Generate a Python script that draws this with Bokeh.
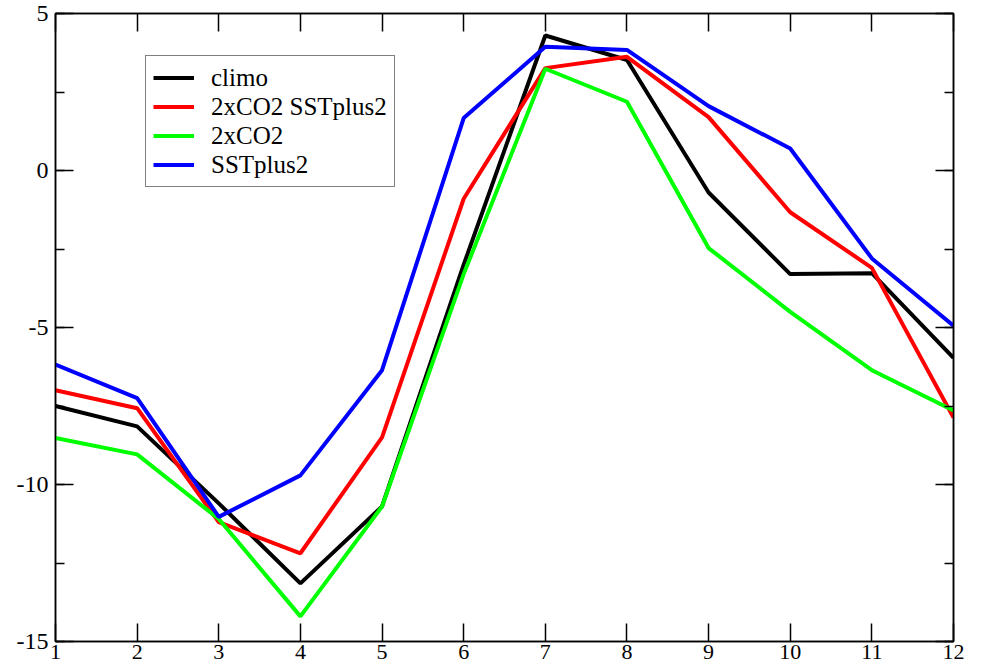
from bokeh.plotting import figure
from bokeh.models import (Range1d, LinearAxis, FixedTicker, SingleIntervalTicker,
                          Legend, LegendItem, CustomJSTickFormatter, CustomLabelingPolicy)
from bokeh.embed import file_html
from bokeh.resources import INLINE

months = [1, 2, 3, 4, 5, 6, 7, 8, 9, 10, 11, 12]
climo = [-7.5, -8.15, -10.6, -13.15, -10.7, -3.0, 4.3, 3.52, -0.7, -3.3, -3.27, -5.97]
co2_sst = [-7.0, -7.57, -11.2, -12.19, -8.5, -0.9, 3.26, 3.62, 1.7, -1.33, -3.1, -7.87]
co2 = [-8.52, -9.04, -11.1, -14.2, -10.7, -3.3, 3.24, 2.19, -2.47, -4.5, -6.36, -7.64]
sstplus2 = [-6.18, -7.25, -11.03, -9.71, -6.36, 1.67, 3.94, 3.84, 2.05, 0.7, -2.8, -4.94]

series_names = ["climo", "2xCO2 SSTplus2", "2xCO2", "SSTplus2"]
series_colors = ["#000000", "#ff0000", "#00ff00", "#0000ff"]
series_values = [climo, co2_sst, co2, sstplus2]

FONT = "Liberation Serif"

p = figure(width=980, height=670, output_backend="svg", toolbar_location=None,
           x_range=Range1d(1, 12), y_range=Range1d(-15, 5),
           x_axis_location=None, y_axis_location=None,
           min_border_left=55, min_border_top=13, min_border_right=27, min_border_bottom=29)
p.background_fill_color = "white"
p.border_fill_color = "white"
p.xgrid.visible = False
p.ygrid.visible = False
p.outline_line_color = "black"
p.outline_line_width = 1.5

hide_labels = CustomLabelingPolicy(code="""
try { const n = indices.size; for (let i = 0; i < n; i++) { indices.unset(i) } } catch (e) {}
return indices
""")
plain_fmt = CustomJSTickFormatter(code="return String(tick)")


def style_axis(ax, show_labels, size, font):
    ax.major_tick_in = 18
    ax.major_tick_out = 0
    ax.minor_tick_in = 9
    ax.minor_tick_out = 0
    ax.axis_line_width = 1.5
    ax.axis_line_color = "black"
    ax.major_tick_line_width = 1.5
    ax.minor_tick_line_width = 1.5
    ax.major_label_text_font = font
    ax.major_label_text_color = "black"
    ax.major_label_text_font_size = size
    ax.formatter = plain_fmt
    if not show_labels:
        ax.major_label_policy = hide_labels
        ax.major_label_standoff = 0
        ax.major_label_text_font_size = "1px"


for loc in ["below", "above"]:
    ax = LinearAxis(ticker=FixedTicker(ticks=months, minor_ticks=[]))
    style_axis(ax, loc == "below", "22px", FONT)
    if loc == "below":
        ax.major_label_standoff = 3
    p.add_layout(ax, loc)

for loc in ["left", "right"]:
    ax = LinearAxis(ticker=SingleIntervalTicker(interval=5, num_minor_ticks=2))
    style_axis(ax, loc == "left", "24px", FONT)
    if loc == "left":
        ax.major_label_standoff = 7
    p.add_layout(ax, loc)

items = []
for name, color, vals in zip(series_names, series_colors, series_values):
    r = p.line(months, vals, line_color=color, line_width=4)
    items.append(LegendItem(label=name, renderers=[r]))

legend = Legend(items=items, location=(90, 454), orientation="vertical",
                glyph_width=41, glyph_height=29, label_height=29, label_standoff=17,
                padding=7, spacing=0, margin=0,
                label_text_font=FONT, label_text_font_size="25px", label_text_color="black",
                border_line_color="black", border_line_width=1.5,
                background_fill_color="white", background_fill_alpha=1.0)
p.add_layout(legend, "center")

open("out.html", "w").write(file_html(p, INLINE))
